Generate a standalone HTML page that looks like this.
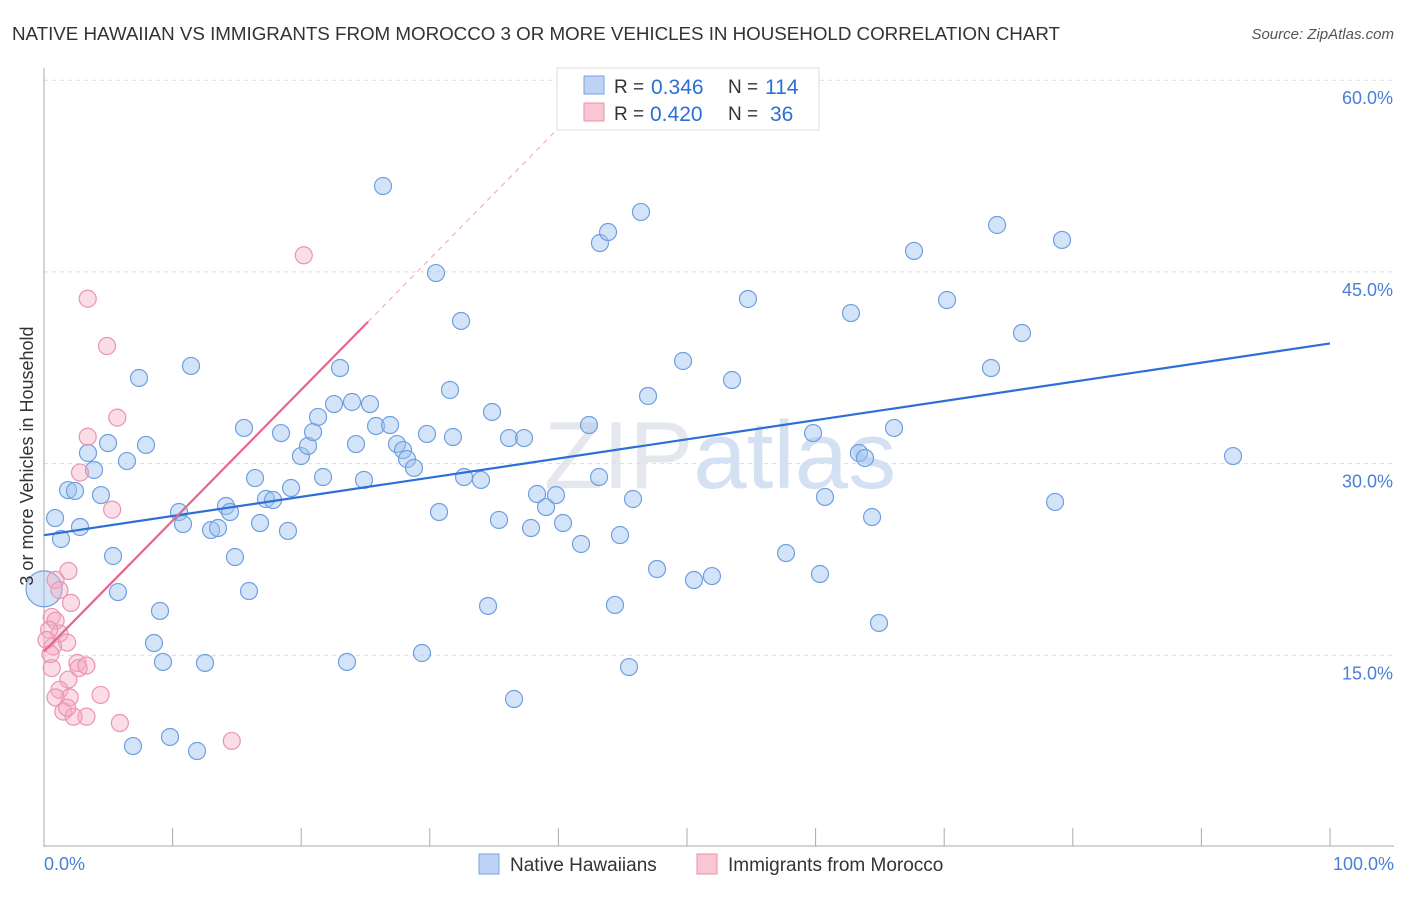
<!DOCTYPE html>
<html><head><meta charset="utf-8"><style>
body{margin:0;background:#fff;font-family:"Liberation Sans",sans-serif;}
svg text{font-family:"Liberation Sans",sans-serif;}
</style></head><body>
<svg id="chart" width="1406" height="892">
<text x="12" y="40" font-size="18.8" fill="#333" textLength="1048">NATIVE HAWAIIAN VS IMMIGRANTS FROM MOROCCO 3 OR MORE VEHICLES IN HOUSEHOLD CORRELATION CHART</text>
<text x="1394" y="39" font-size="15" fill="#555" text-anchor="end" font-style="italic">Source: ZipAtlas.com</text>
<text x="720" y="488" font-size="96" fill="#e4e8ee" text-anchor="middle" font-family="Liberation Serif">ZIP<tspan fill="#d3e1f3" font-family="Liberation Sans">atlas</tspan></text>
<g id="grid"></g><g id="pts"></g><g id="lines"></g>
<text transform="translate(33,456) rotate(-90)" font-size="18" fill="#333" text-anchor="middle">3 or more Vehicles in Household</text>
<text x="44" y="870" font-size="18" fill="#4a7fd4">0.0%</text>
<text x="1394" y="870" font-size="18" fill="#4a7fd4" text-anchor="end">100.0%</text>
<g>
<rect x="557" y="68" width="262" height="62" fill="#fff" stroke="#ddd"/>
<rect x="584" y="76" width="20" height="18" fill="#bcd3f5" stroke="#7aa3e0"/>
<rect x="584" y="103" width="20" height="18" fill="#f9c6d4" stroke="#ec8fab"/>
<text x="614" y="93" font-size="19" fill="#333">R =</text>
<text x="651" y="94" font-size="21" fill="#2c6fd6">0.346</text>
<text x="728" y="93" font-size="19" fill="#333">N =</text>
<text x="765" y="94" font-size="21" fill="#2c6fd6">114</text>
<text x="614" y="120" font-size="19" fill="#333">R =</text>
<text x="650" y="121" font-size="21" fill="#2c6fd6">0.420</text>
<text x="728" y="120" font-size="19" fill="#333">N =</text>
<text x="770" y="121" font-size="21" fill="#2c6fd6">36</text>
</g>
<g>
<rect x="479" y="854" width="20" height="20" fill="#bcd3f5" stroke="#7aa3e0"/>
<text x="510" y="871" font-size="19" fill="#333">Native Hawaiians</text>
<rect x="697" y="854" width="20" height="20" fill="#f9c6d4" stroke="#ec8fab"/>
<text x="728" y="871" font-size="19" fill="#333">Immigrants from Morocco</text>
</g>
</svg>
<script>
const yTicks=[15,30,45,60];
const xTicks=[0,10,20,30,40,50,60,70,80,90,100];
const blueX=[0.86,1.32,1.87,2.41,2.80,3.42,3.89,4.43,4.98,5.37,5.75,6.45,6.92,7.39,7.93,8.55,9.02,9.25,9.80,10.50,10.81,11.43,11.90,12.52,12.99,13.53,14.15,14.46,14.85,15.55,15.94,16.41,16.80,17.26,17.81,18.43,18.97,19.21,19.98,20.53,20.92,21.31,21.70,22.55,23.02,23.56,23.95,24.26,24.88,25.35,25.82,26.36,26.91,27.45,27.92,28.23,28.77,29.39,29.78,30.48,30.72,31.57,31.80,32.43,32.66,33.98,34.53,34.84,35.38,36.16,36.55,37.33,37.87,38.34,39.04,39.81,40.36,41.76,42.38,43.16,43.23,43.86,44.4,44.79,45.49,45.8,46.42,46.97,47.67,49.69,50.54,51.94,53.5,54.74,57.7,59.8,60.34,60.73,62.75,63.37,63.84,64.39,64.93,66.1,67.65,70.22,73.64,74.11,76.05,78.62,79.16,92.46];
const blueY=[25.74,24.1,27.93,27.86,25.04,30.83,29.5,27.54,31.61,22.77,19.95,30.2,7.9,36.7,31.46,15.96,18.47,14.48,8.61,26.21,25.27,37.64,7.51,14.4,24.8,24.96,26.68,26.21,22.69,32.79,20.03,28.87,25.35,27.23,27.15,32.39,24.73,28.09,30.59,31.38,32.47,33.65,28.95,34.66,37.48,14.48,34.82,31.53,28.72,34.66,32.94,51.72,33.02,31.53,31.06,30.36,29.66,15.18,32.32,44.91,26.21,35.76,32.08,41.16,28.95,28.72,18.86,34.04,25.59,32.0,11.58,32.0,24.96,27.62,26.6,27.54,25.35,23.71,33.02,28.95,47.26,48.12,18.94,24.41,14.08,27.23,49.69,35.29,21.75,38.03,20.89,21.2,36.54,42.88,23.0,32.39,21.36,27.39,41.78,30.83,30.44,25.82,17.53,32.79,46.64,42.8,37.48,48.67,40.22,27.0,47.5,30.59];
const pinkX=[3.4,4.9,5.7,3.4,2.8,5.3,1.9,2.1,0.9,1.2,0.6,0.9,1.2,1.8,0.4,0.7,2.6,2.7,3.3,0.6,1.9,1.2,2.0,4.4,0.9,1.5,3.3,2.3,1.8,5.9,14.6,20.2,0.2,0.5];
const pinkY=[42.9,39.2,33.6,32.1,29.3,26.4,21.6,19.1,20.9,20.1,18.0,17.7,16.7,16.0,17.0,15.7,14.4,14.0,14.2,14.0,13.1,12.3,11.7,11.9,11.7,10.6,10.2,10.2,10.9,9.7,8.3,46.3,16.2,15.1];
const blueFit=[24.4,39.4];
const pinkFit=[15.3,41.1,25.2];
const X0=44,X1=1330,Y0=847,SY=12.78;
const xs=v=>X0+(X1-X0)*v/100, ys=v=>Y0-SY*v;
const NS='http://www.w3.org/2000/svg';
function mk(p,t,a){const e=document.createElementNS(NS,t);for(const k in a)e.setAttribute(k,a[k]);p.appendChild(e);return e;}
const g=document.getElementById('grid');
yTicks.forEach(t=>{
 const l=mk(g,'line',{x1:44,x2:1394,y1:ys(t),y2:ys(t),stroke:'#dcdcdc','stroke-dasharray':'4,4'});
 
 
 const tx=mk(g,'text',{x:1393,y:ys(t)+24,'font-size':18,fill:'#4a7fd4','text-anchor':'end'});tx.textContent=t.toFixed(1)+'%';
 
 
});
const ax=mk(g,'line',{x1:44,x2:44,y1:68,y2:847,stroke:'#aaa'});


const bx=mk(g,'line',{x1:44,x2:1394,y1:846,y2:846,stroke:'#aaa'});


xTicks.forEach(t=>{const l=mk(g,'line',{x1:xs(t),x2:xs(t),y1:828,y2:846,stroke:'#aaa'});
 
 });
const p=document.getElementById('pts');
const big=mk(p,'circle',{cx:xs(0),cy:ys(20.2),r:18,fill:'rgba(160,195,240,0.45)',stroke:'#6f9fe0','stroke-width':1.2});


blueX.forEach((v,i)=>{const c=mk(p,'circle',{cx:xs(v),cy:ys(blueY[i]),r:8.5,fill:'rgba(160,195,240,0.45)',stroke:'#6f9fe0','stroke-width':1.2});
 
 });
pinkX.forEach((v,i)=>{const c=mk(p,'circle',{cx:xs(v),cy:ys(pinkY[i]),r:8.5,fill:'rgba(245,170,195,0.4)',stroke:'#ec94b0','stroke-width':1.2});
 
 });
const L=document.getElementById('lines');
const bl=mk(L,'line',{x1:xs(0),y1:ys(blueFit[0]),x2:xs(100),y2:ys(blueFit[1]),stroke:'#2c6fd6','stroke-width':2.2});


const slope=(pinkFit[1]-pinkFit[0])/pinkFit[2];
const pl=mk(L,'line',{x1:xs(0),y1:ys(pinkFit[0]),x2:xs(pinkFit[2]),y2:ys(pinkFit[1]),stroke:'#e8648e','stroke-width':2.2});


const pd=mk(L,'line',{x1:xs(pinkFit[2]),y1:ys(pinkFit[1]),x2:xs(40),y2:ys(pinkFit[0]+slope*40),stroke:'#f0a0b8','stroke-width':1,'stroke-dasharray':'5,5'});


</script>
</body></html>
